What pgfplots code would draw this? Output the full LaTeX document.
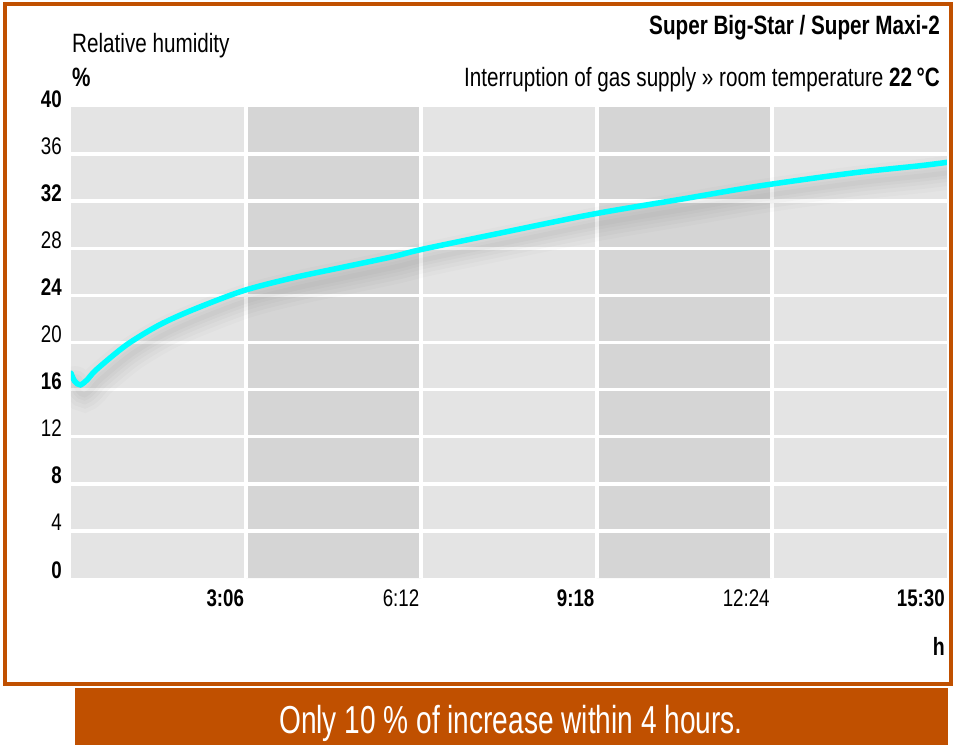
\documentclass[border=0pt]{standalone}
\usepackage{fontspec}
\setmainfont{Liberation Sans}[FakeStretch=0.78]
\newfontfamily\bannerfont{Liberation Sans}[FakeStretch=0.72]
\usepackage{pgfplots}
\usepackage{pgfplotstable}
\pgfplotsset{compat=1.18}
\definecolor{brd}{RGB}{192,80,0}
\definecolor{bandlight}{RGB}{228,228,228}
\definecolor{banddark}{RGB}{213,213,213}
\definecolor{curve}{RGB}{0,255,255}

\pgfplotstableread{
t h
0 17.4
4 16.7
10 16.4
18 16.9
27 17.7
59 19.8
94 21.5
130 22.8
183 24.4
236 25.5
289 26.4
342 27.3
372 27.9
450 29.2
554 30.9
650 32.2
731 33.3
830 34.4
900 35.0
930 35.3
}\humid

\begin{document}
\begin{tikzpicture}
\useasboundingbox (0pt,0pt) rectangle (954pt,-745pt);
\draw[brd, line width=4pt] (5pt,-4pt) rectangle (951pt,-684pt);
\fill[brd] (75pt,-688pt) rectangle (948pt,-745pt);
\node[anchor=base, white, inner sep=0pt, font=\bannerfont\fontsize{39}{44}\selectfont] at (511pt,-733pt) {Only 10 \% of increase within 4 hours.};

\node[anchor=base west, inner sep=0pt, font=\fontsize{26.5}{30}\selectfont] at (72pt,-52pt) {Relative humidity};
\node[anchor=base west, inner sep=0pt, font=\bfseries\fontsize{26.5}{30}\selectfont] at (72pt,-86pt) {\%};
\node[anchor=base east, inner sep=0pt, font=\bfseries\fontsize{26.5}{30}\selectfont] at (940pt,-34pt) {Super Big-Star / Super Maxi-2};
\node[anchor=base east, inner sep=0pt, font=\fontsize{26.5}{30}\selectfont] at (940pt,-86pt) {Interruption of gas supply » room temperature \textbf{22\,°C}};
\node[anchor=base east, inner sep=0pt, font=\bfseries\fontsize{25}{28}\selectfont] at (945pt,-655pt) {h};

\begin{axis}[
 at={(71pt,-578pt)}, anchor=south west,
 scale only axis, width=876pt, height=471pt,
 xmin=0, xmax=930, ymin=0, ymax=40,
 axis line style={draw=none},
 axis background/.style={fill=bandlight},
 major tick length=0pt,
 xtick={186,372,558,744,930},
 xticklabels={\textbf{3:06},6:12,\textbf{9:18},12:24,\textbf{15:30}},
 ytick={0,4,...,40},
 yticklabels={\textbf{0},4,\textbf{8},12,\textbf{16},20,\textbf{24},28,\textbf{32},36,\textbf{40}},
 tick label style={font=\fontsize{24}{27}\selectfont, inner sep=0pt},
 xticklabel style={anchor=base east, yshift=-28pt, xshift=-2pt},
 yticklabel style={anchor=base east, xshift=-9pt},
]
\addplot[draw=none, fill=banddark] coordinates {(186,0) (186,40) (372,40) (372,0)} \closedcycle;
\addplot[draw=none, fill=banddark] coordinates {(558,0) (558,40) (744,40) (744,0)} \closedcycle;
\addplot[xcomb, white, line width=3.5pt, mark=none] coordinates {(930,4) (930,8) (930,12) (930,16) (930,20) (930,24) (930,28) (930,32) (930,36)};
\addplot[ycomb, white, line width=4pt, mark=none] coordinates {(186,40) (372,40) (558,40) (744,40)};
\addplot[black, opacity=0.015, line width=34pt, smooth, xshift=4pt, yshift=-10pt, line cap=round] table[x=t, y=h] {\humid};
\addplot[black, opacity=0.02, line width=26pt, smooth, xshift=4pt, yshift=-10pt, line cap=round] table[x=t, y=h] {\humid};
\addplot[black, opacity=0.02, line width=18pt, smooth, xshift=4pt, yshift=-10pt, line cap=round] table[x=t, y=h] {\humid};
\addplot[black, opacity=0.02, line width=11pt, smooth, xshift=4pt, yshift=-10pt, line cap=round] table[x=t, y=h] {\humid};
\addplot[black, opacity=0.02, line width=5pt, smooth, xshift=4pt, yshift=-10pt, line cap=round] table[x=t, y=h] {\humid};
\addplot[curve, line width=5.5pt, smooth, line cap=round] table[x=t, y=h] {\humid};
\end{axis}
\end{tikzpicture}
\end{document}
